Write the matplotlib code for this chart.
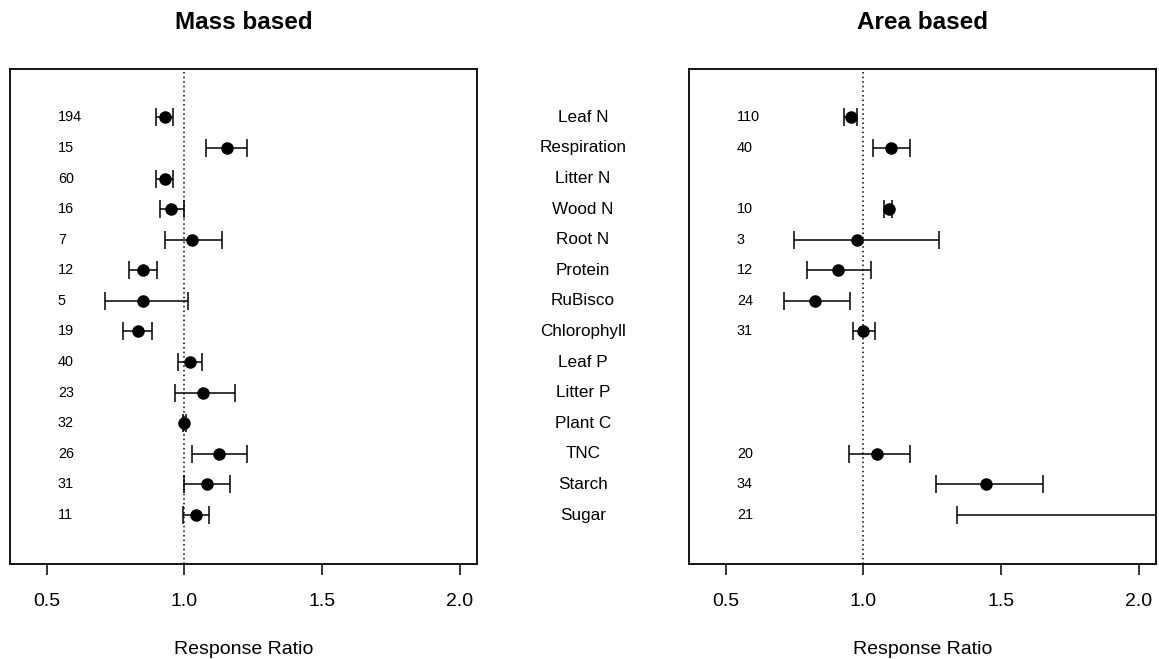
import numpy as np
import matplotlib
matplotlib.use('Agg')
import matplotlib.pyplot as plt
import matplotlib.transforms as mtransforms

plt.rcParams['font.family'] = ['Liberation Sans', 'DejaVu Sans']

# response variables, top to bottom
categories = ['Leaf N', 'Respiration', 'Litter N', 'Wood N', 'Root N', 'Protein',
              'RuBisco', 'Chlorophyll', 'Leaf P', 'Litter P', 'Plant C', 'TNC',
              'Starch', 'Sugar']

# mass based: mean response ratio, lower / upper CI, number of observations
mass_mean = [0.931, 1.153, 0.929, 0.951, 1.028, 0.850, 0.850, 0.830, 1.020, 1.067, 0.999, 1.124, 1.081, 1.041]
mass_lo = [0.898, 1.077, 0.898, 0.912, 0.930, 0.799, 0.712, 0.777, 0.977, 0.965, 0.993, 1.029, 1.000, 0.994]
mass_hi = [0.959, 1.229, 0.959, 0.997, 1.135, 0.901, 1.012, 0.883, 1.064, 1.183, 1.004, 1.229, 1.165, 1.090]
mass_n = [194, 15, 60, 16, 7, 12, 5, 19, 40, 23, 32, 26, 31, 11]

# area based (None = not available)
area_mean = [0.954, 1.100, None, 1.091, 0.976, 0.906, 0.824, 1.000, None, None, None, 1.049, 1.447, 2.20]
area_lo = [0.929, 1.035, None, 1.076, 0.747, 0.794, 0.712, 0.963, None, None, None, 0.948, 1.264, 1.341]
area_hi = [0.976, 1.168, None, 1.105, 1.276, 1.029, 0.951, 1.041, None, None, None, 1.170, 1.654, 3.00]
area_n = [110, 40, None, 10, 3, 12, 24, 31, None, None, None, 20, 34, 21]

xticks = [0.5, 1.0, 1.5, 2.0]


def draw_panel(ax, title, mean, lo, hi, n):
  rows = np.arange(1, len(categories) + 1)
  ok = [i for i in range(len(categories)) if mean[i] is not None]
  m = np.array([mean[i] for i in ok])
  l = np.array([lo[i] for i in ok])
  h = np.array([hi[i] for i in ok])
  ax.axvline(1.0, color='black', linestyle=(0, (1, 2)), lw=1.1)
  ax.errorbar(m, rows[ok], xerr=[m - l, h - m], fmt='o', color='black', ecolor='black',
              ms=8, elinewidth=1.1, capsize=6.5, capthick=1.1)
  for i in ok:
    ax.text(0.54, rows[i], str(n[i]), ha='left', va='center', fontsize=10.4)

  ax.set_xlim(0.366, 2.063)
  ax.set_ylim(15.6, -0.58)
  ax.set_yticks([])
  ax.set_xticks(xticks)
  ax.set_xticklabels([f'{t:.1f}' for t in xticks])
  ax.tick_params(axis='x', direction='out', length=8, width=1.1, pad=13, labelsize=14)
  for s in ax.spines.values():
    s.set_linewidth(1.3)
  ax.set_xlabel('Response Ratio', fontsize=14, labelpad=22)
  ax.set_title(title, fontsize=17.5, fontweight='bold', pad=29)


fig = plt.figure(figsize=(11.59, 6.59), dpi=100)
ax1 = fig.add_axes([10 / 1159, 95 / 659, 467 / 1159, 495 / 659])
ax2 = fig.add_axes([689 / 1159, 95 / 659, 467 / 1159, 495 / 659])

draw_panel(ax1, 'Mass based', mass_mean, mass_lo, mass_hi, mass_n)
draw_panel(ax2, 'Area based', area_mean, area_lo, area_hi, area_n)

# category names between the two panels
trans = mtransforms.blended_transform_factory(fig.transFigure, ax1.transData)
for i, name in enumerate(categories):
  fig.text(583 / 1159, i + 1, name, transform=trans, ha='center', va='center', fontsize=12.3)

fig.savefig('out.png', dpi=100)
